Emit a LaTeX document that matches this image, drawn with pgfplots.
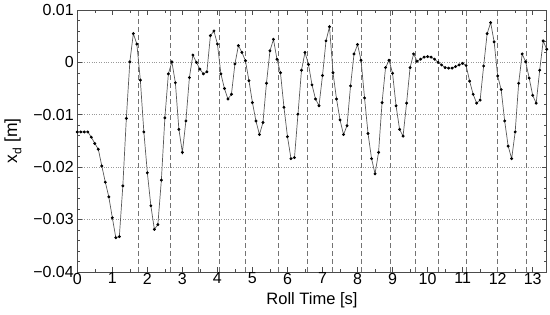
\documentclass[border=0pt]{standalone}
\usepackage{fontspec}
\setmainfont{Liberation Sans}
\usepackage{pgfplots}
\pgfplotsset{compat=1.18}
\usepackage{pgfplotstable}

\pgfplotstableread{
t xd
0 -0.0133
0.1 -0.0133
0.2 -0.0133
0.3 -0.0133
0.4 -0.0143
0.5 -0.0155
0.6 -0.0166
0.7 -0.0198
0.8 -0.0229
0.9 -0.0257
1.0 -0.0297
1.1 -0.0335
1.2 -0.0333
1.3 -0.0236
1.4 -0.0107
1.5 0.0001
1.6 0.0055
1.7 0.0035
1.8 -0.0034
1.9 -0.0133
2.0 -0.0211
2.1 -0.0274
2.2 -0.0319
2.3 -0.0310
2.4 -0.0225
2.5 -0.0106
2.6 -0.0022
2.7 0.0001
2.8 -0.0039
2.9 -0.0128
3.0 -0.0172
3.1 -0.0112
3.2 -0.0029
3.3 0.0014
3.4 0.0000
3.5 -0.0013
3.6 -0.0022
3.7 -0.0018
3.8 0.0051
3.9 0.0060
4.0 0.0035
4.1 -0.0022
4.2 -0.0050
4.3 -0.0070
4.4 -0.0061
4.5 -0.0003
4.6 0.0032
4.7 0.0019
4.8 0.0003
4.9 -0.0035
5.0 -0.0077
5.1 -0.0112
5.2 -0.0138
5.3 -0.0115
5.4 -0.0040
5.5 0.0022
5.6 0.0044
5.7 0.0006
5.8 -0.0020
5.9 -0.0086
6.0 -0.0142
6.1 -0.0184
6.2 -0.0182
6.3 -0.0099
6.4 -0.0015
6.5 0.0019
6.6 -0.0004
6.7 -0.0043
6.8 -0.0070
6.9 -0.0083
7.0 -0.0025
7.1 0.0041
7.2 0.0068
7.3 -0.0020
7.4 -0.0070
7.5 -0.0110
7.6 -0.0138
7.7 -0.0121
7.8 -0.0045
7.9 0.0016
8.0 0.0034
8.1 0.0004
8.2 -0.0068
8.3 -0.0136
8.4 -0.0184
8.5 -0.0213
8.6 -0.0172
8.7 -0.0077
8.8 -0.0010
8.9 0.0004
9.0 -0.0021
9.1 -0.0083
9.2 -0.0128
9.3 -0.0141
9.4 -0.0078
9.5 -0.0010
9.6 0.0016
9.7 0.0002
9.8 0.0006
9.9 0.0010
10.0 0.0011
10.1 0.0010
10.2 0.0006
10.3 0.0000
10.4 -0.0005
10.5 -0.0010
10.6 -0.0011
10.7 -0.0011
10.8 -0.0008
10.9 -0.0005
11.0 -0.0002
11.1 -0.0006
11.2 -0.0036
11.3 -0.0061
11.4 -0.0078
11.5 -0.0072
11.6 -0.0007
11.7 0.0055
11.8 0.0076
11.9 0.0039
12.0 -0.0026
12.1 -0.0052
12.2 -0.0112
12.3 -0.0160
12.4 -0.0184
12.5 -0.0133
12.6 -0.0040
12.7 0.0016
12.8 0.0001
12.9 -0.0030
13.0 -0.0063
13.1 -0.0078
13.2 -0.0015
13.3 0.0041
13.4 0.0025
}\rolldata

\begin{document}
\begin{tikzpicture}
\useasboundingbox (-77.3pt,-42.3pt) rectangle (472.7pt,271.7pt);
\begin{axis}[
  scale only axis,
  width=469.4pt, height=261.7pt,
  font=\fontsize{16}{19}\selectfont,
  xmin=0, xmax=13.4,
  ymin=-0.04, ymax=0.01,
  xtick={0,1,...,13},
  minor x tick num=1,
  ytick={-0.04,-0.03,-0.02,-0.01,0,0.01},
  yticklabels={−0.04,−0.03,−0.02,−0.01,0,0.01},
  minor y tick num=4,
  scaled ticks=false,
  /pgf/number format/assume math mode=true,
  tick align=inside,
  major tick length=5pt,
  minor tick length=3pt,
  axis line style={black!70},
  every tick/.style={black!70},
  ymajorgrids,
  grid style={dotted, black!40},
  xticklabel style={inner sep=1pt},
  xlabel={Roll Time [s]},
  ylabel={x\raisebox{-0.25em}{\fontsize{12}{14}\selectfont d} [m]},
  xlabel style={at={(axis description cs:0.5,-0.108)}, anchor=center,
    font=\fontsize{16.5}{19}\selectfont},
  ylabel style={at={(axis description cs:-0.137,0.5)}, anchor=center,
    font=\fontsize{17.5}{20}\selectfont},
]
\pgfplotsinvokeforeach{1.74,2.65,3.46,4.05,4.81,5.74,6.57,7.27,8.10,8.93,9.65,10.31,11.11,12.0,12.81}{
  \addplot[black!55, line width=0.8pt, dash pattern=on 5pt off 3pt, forget plot]
    coordinates {(#1,-0.04) (#1,0.01)};
}
\addplot[black!65, line width=0.7pt, mark=*, mark size=1.1pt,
  mark options={black, fill=black}] table[x=t, y=xd] {\rolldata};
\end{axis}
\end{tikzpicture}
\end{document}
